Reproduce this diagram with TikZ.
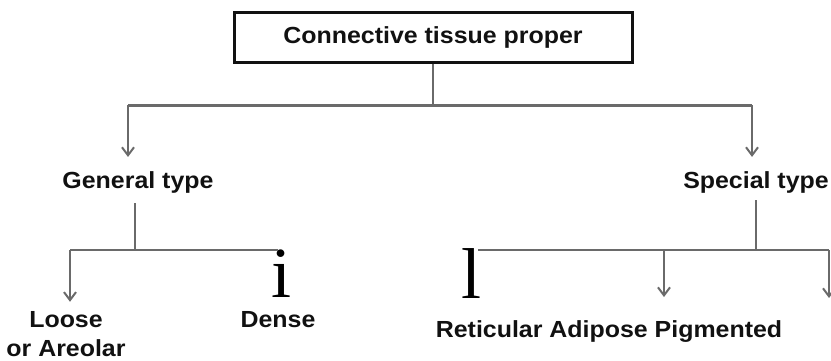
\documentclass[tikz,border=0pt]{standalone}
\usepackage{fontspec}
\setmainfont{Liberation Sans}[FakeStretch=1.07]
\newfontfamily\glyphfont{Liberation Serif}
\usetikzlibrary{arrows.meta,positioning}
\definecolor{ink}{HTML}{111111}
\definecolor{wire}{HTML}{6A6A6A}
\tikzset{
  >={Straight Barb[length=8pt,width=12pt]},
  every node/.style={font=\fontsize{23.3}{29}\selectfont\bfseries,text=ink},
  rootbox/.style={draw=ink,line width=3pt,minimum width=398pt,minimum height=50pt,inner sep=0pt},
  typetext/.style={anchor=base,align=center,inner sep=0pt},
  wire/.style={draw=wire,line width=2pt},
  mainwire/.style={wire,line width=3pt},
  arrow/.style={wire,->},
  stray/.style={font=\fontsize{72}{72}\selectfont\glyphfont,text=black,anchor=base,inner sep=0pt},
}

\begin{document}
\begin{tikzpicture}[x=1pt,y=-1pt]
\useasboundingbox (0,0) rectangle (831,360);

\node[rootbox] (root) at (433,37) {Connective tissue proper};
\node[typetext] (general) at (138,188) {General type};
\node[typetext] (special) at (756,188) {Special type};
\node[typetext] (loose) at (66,356) {Loose\\or Areolar};
\node[typetext] (dense) at (278,327) {Dense};
\node[typetext] (kinds) at (609,337) {Reticular Adipose Pigmented};
\node[stray] (dotglyph) at (282,297) {i};
\node[stray] (barglyph) at (471,298) {l};

% junctions
\coordinate (split) at (433,105);
\coordinate (gen-corner) at (128,105);
\coordinate (spec-corner) at (752,105);
\coordinate (gen-split) at (135,250);
\coordinate (loose-corner) at (70,250);
\coordinate (dense-end) at (278,250);
\coordinate (spec-split) at (756,250);
\coordinate (kinds-start) at (478,250);
\coordinate (adipose-drop) at (664,250);
\coordinate (pigment-corner) at (829,250);
\coordinate (adipose-tip) at (664,297);
\coordinate (pigment-tip) at (829,298);

\draw[wire] (root.south) -- (split);
\draw[mainwire] (gen-corner) -- (spec-corner);
\draw[arrow] (gen-corner) -- ([yshift=14pt]gen-corner |- general.north);
\draw[arrow] (spec-corner) -- ([yshift=14pt]spec-corner |- special.north);

\draw[wire] ([yshift=-10pt]gen-split |- general.south) -- (gen-split);
\draw[wire] (loose-corner) -- (dense-end);
\draw[arrow] (loose-corner) -- ([yshift=9pt]loose-corner |- loose.north);

\draw[wire] ([yshift=-7pt]spec-split |- special.south) -- (spec-split);
\draw[wire] (kinds-start) -- (pigment-corner);
\draw[arrow] (adipose-drop) -- (adipose-tip);
\draw[arrow] (pigment-corner) -- (pigment-tip);

\end{tikzpicture}
\end{document}
